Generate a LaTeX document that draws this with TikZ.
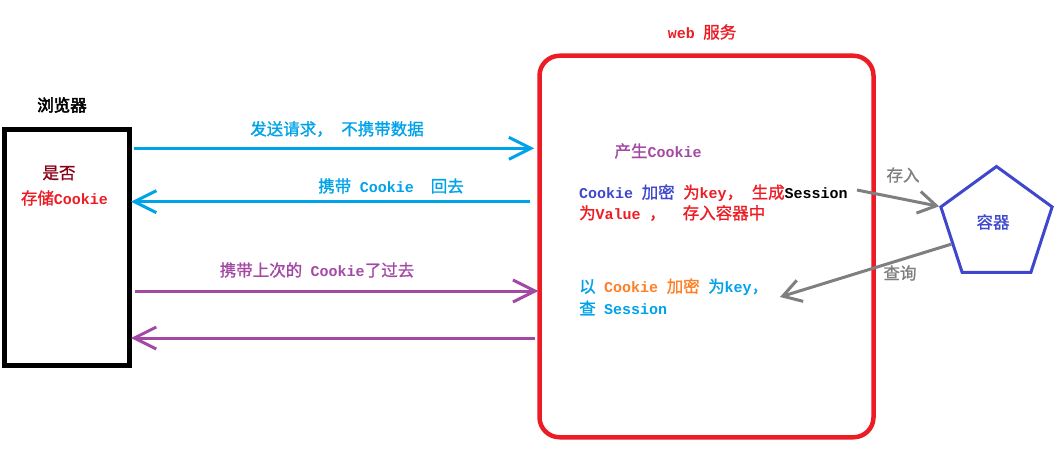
\documentclass[tikz,border=0pt]{standalone}
\usepackage{fontspec}
\setmonofont{Liberation Mono}
\newfontfamily\cjk[FakeBold=1.2]{Noto Sans CJK SC}
\newfontfamily\cjkb[FakeBold=3]{Noto Sans CJK SC}
\usetikzlibrary{arrows.meta,shapes.geometric,calc}
\definecolor{lblue}{HTML}{00A2E8}
\definecolor{purp}{HTML}{A349A4}
\definecolor{webred}{HTML}{ED1C24}
\definecolor{dred}{HTML}{880015}
\definecolor{pblue}{HTML}{3F48CC}
\definecolor{orng}{HTML}{FF7F27}
\definecolor{grayc}{HTML}{7F7F7F}
\newcommand\gap{\hspace{8.5pt}}
\newcommand\cj[1]{{\cjk\fontsize{16.5}{18}\selectfont #1}}
\newcommand\lt[1]{{\ttfamily\bfseries\fontsize{15}{18}\selectfont #1}}
\begin{document}
\begin{tikzpicture}[x=1pt,y=-1pt,
  txt/.style={font=\fontsize{15}{18}\selectfont, inner sep=0pt},
  barrow/.style={line width=3pt, -{Straight Barb[length=22pt,width=22pt,line width=3pt]}},
  gbarrow/.style={line width=3pt, grayc, -{Straight Barb[length=18pt,width=22pt,line width=3pt]}}]
\useasboundingbox (0,0) rectangle (1064,465);
% browser box
\node[draw=black, line width=5pt, minimum width=125pt, minimum height=236pt, inner sep=0pt] (browser) at (67,247.5) {};
\node[txt] (btitle) at (62,105) {\fontsize{16.5}{18}\cjkb 浏览器};
\node[txt, text=dred] (q1) at (59,173) {\cj{是否}};
\node[txt, text=webred] (q2) at (64.5,198) {\cj{存储}\lt{Cookie}};
% web service box
\node[draw=webred, line width=4.5pt, rounded corners=20pt, minimum width=334pt, minimum height=381.5pt, inner sep=0pt] (web) at (706.5,246.5) {};
\node[txt, text=webred] (wtitle) at (702,32) {\lt{web}\gap\cj{服务}};
% row coordinates
\coordinate (r1) at (0,148.3);
\coordinate (r2) at (0,201.7);
\coordinate (r3) at (0,291);
\coordinate (r4) at (0,338);
% arrows
\draw[barrow, lblue] ([xshift=2pt]browser.east |- r1) -- ([xshift=-3pt]web.west |- r1);
\draw[barrow, lblue] ([xshift=-7pt]web.west |- r2) -- ([xshift=-1pt]browser.east |- r2);
\draw[barrow, purp] ([xshift=3pt]browser.east |- r3) -- ([xshift=1pt]web.west |- r3);
\draw[barrow, purp] ([xshift=-2pt]web.west |- r4) -- ([xshift=-1pt]browser.east |- r4);
% arrow labels
\node[txt, text=lblue] (l1) at (337,129) {\cj{发送请求，}\gap\cj{不携带数据}};
\node[txt, text=lblue] (l2) at (391,186) {\cj{携带}\gap\lt{Cookie}\gap\gap\cj{回去}};
\node[txt, text=purp] (l3) at (317,270) {\cj{携带上次的}\gap\lt{Cookie}\cj{了过去}};
% inside texts
\node[txt, text=purp] (t0) at (658,151) {\cj{产生}\lt{Cookie}};
\node[txt, anchor=west] (t1) at (579,193) {\textcolor{pblue}{\lt{Cookie}\gap\cj{加密}}\gap\textcolor{webred}{\cj{为}\lt{key}\cj{，}\gap\cj{生成}}\lt{Session}};
\node[txt, anchor=west, text=webred] (t2) at (579,213) {\cj{为}\lt{Value}\gap\cj{，}\gap\gap\cj{存入容器中}};
\node[txt, anchor=west] (t3) at (579,287) {\textcolor{lblue}{\cj{以}}\gap\textcolor{orng}{\lt{Cookie}\gap\cj{加密}}\gap\textcolor{lblue}{\cj{为}\lt{key}\cj{，}}};
\node[txt, anchor=west, text=lblue] (t4) at (579,308) {\cj{查}\gap\lt{Session}};
% container pentagon
\node[regular polygon, regular polygon sides=5, draw=pblue, line width=3pt, minimum size=117pt, inner sep=0pt] (pent) at (996.5,225) {};
\node[txt, text=pblue] (ptxt) at (993,222) {\cj{容器}};
% gray arrows
\coordinate (sfrom) at (857,190);
\coordinate (qto) at (780,297);
\draw[gbarrow] (sfrom) -- (pent.corner 2);
\draw[gbarrow] ($(pent.corner 2)!0.56!(pent.corner 3)$) -- (qto);
\node[txt, text=grayc] (sl) at (903,175) {\cj{存入}};
\node[txt, text=grayc] (ql) at (900,273) {\cj{查询}};
\end{tikzpicture}
\end{document}
